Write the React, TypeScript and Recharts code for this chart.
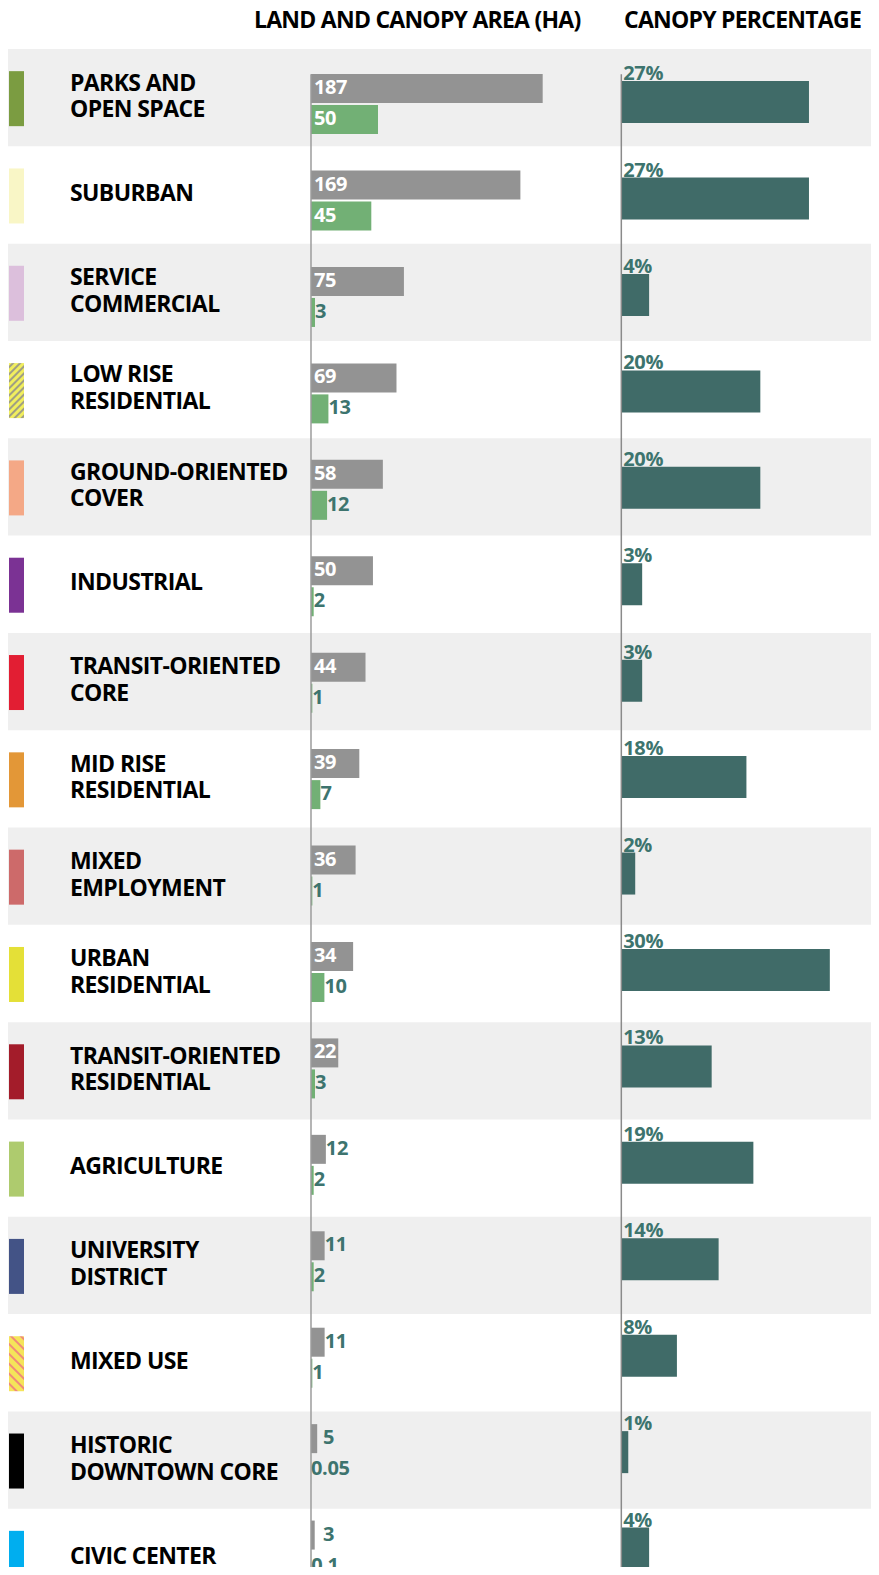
import { Bar, BarChart, LabelList, ReferenceArea, ReferenceLine, XAxis, YAxis } from "recharts";

const landUses = [
  "PARKS AND\nOPEN SPACE",
  "SUBURBAN",
  "SERVICE\nCOMMERCIAL",
  "LOW RISE\nRESIDENTIAL",
  "GROUND-ORIENTED\nCOVER",
  "INDUSTRIAL",
  "TRANSIT-ORIENTED\nCORE",
  "MID RISE\nRESIDENTIAL",
  "MIXED\nEMPLOYMENT",
  "URBAN\nRESIDENTIAL",
  "TRANSIT-ORIENTED\nRESIDENTIAL",
  "AGRICULTURE",
  "UNIVERSITY\nDISTRICT",
  "MIXED USE",
  "HISTORIC\nDOWNTOWN CORE",
  "CIVIC CENTER",
];

// hectares
const landArea = [187, 169, 75, 69, 58, 50, 44, 39, 36, 34, 22, 12, 11, 11, 5, 3];
const canopyArea = [50, 45, 3, 13, 12, 2, 1, 7, 1, 10, 3, 2, 2, 1, 0.05, 0.1];
// percent of land covered by canopy
const canopyPct = [27, 27, 4, 20, 20, 3, 3, 18, 2, 30, 13, 19, 14, 8, 1, 4];

const swatchFills = [
  "#7b9c41",
  "#f9f6c6",
  "#dcbfdc",
  "url(#hatchLowRise)",
  "#f4a886",
  "#7b3294",
  "#e21e33",
  "#e39737",
  "#cd6a6a",
  "#e4e037",
  "#a31c2a",
  "#aecb6e",
  "#435386",
  "url(#hatchMixedUse)",
  "#000000",
  "#00aeef",
];

const rows = landUses.map((name, i) => ({
  name,
  land: landArea[i],
  canopy: canopyArea[i],
  pct: canopyPct[i],
}));

const FONT = '"Open Sans", "DejaVu Sans", sans-serif';
const TEAL = "#3d746e";

const RowTick = (props: any) => {
  const { y, payload } = props;
  const idx = landUses.indexOf(payload.value);
  const lines = String(payload.value).split("\n");
  const first = y - 2 + 8.2 - (lines.length - 1) * 13.35;
  return (
    <g>
      <rect x={9} y={y - 26.5} width={15} height={55} fill={swatchFills[idx]} />
      <text
        fontFamily={FONT}
        fontWeight={700}
        fontSize={23}
        letterSpacing={-0.6}
        fill="#000"
      >
        {lines.map((line, i) => (
          <tspan key={i} x={70} y={first + i * 26.7}>
            {line}
          </tspan>
        ))}
      </text>
    </g>
  );
};

const makeAreaLabel = (insideMin: number, outsideMin: number) => (props: any) => {
  const { x, y, width, height, value } = props;
  const inside = width >= insideMin;
  const tx = inside ? x + 3 : Math.max(x + width, x + outsideMin);
  return (
    <text
      x={tx}
      y={y + height / 2 + 5.5}
      fontFamily={FONT}
      fontWeight={700}
      fontSize={20}
      letterSpacing={-0.4}
      fill={inside ? "#ffffff" : TEAL}
    >
      {value}
    </text>
  );
};

const pctLabel = (props: any) => {
  const { x, y, value } = props;
  return (
    <text
      x={x + 2}
      y={y - 1}
      fontFamily={FONT}
      fontWeight={700}
      fontSize={20}
      letterSpacing={-0.4}
      fill={TEAL}
    >
      {`${value}%`}
    </text>
  );
};

export default function App() {
  return (
    <div
      style={{
        position: "relative",
        margin: -8,
        width: 879,
        height: 1575,
        overflow: "hidden",
        background: "#fff",
      }}
    >
      <svg width={879} height={49} style={{ position: "absolute", left: 0, top: 0 }}>
        <text x={10} y={5.5} fontFamily='"Liberation Sans", Arial, sans-serif' fontStyle="italic" fontSize={32} fill="#1d4e62">
          OCP land use
        </text>
        <text x={254} y={28.3} fontFamily={FONT} fontWeight={700} fontSize={23} letterSpacing={-0.75} fill="#000">
          LAND AND CANOPY AREA (HA)
        </text>
        <text x={624} y={28.3} fontFamily={FONT} fontWeight={700} fontSize={23} letterSpacing={-0.75} fill="#000">
          CANOPY PERCENTAGE
        </text>
      </svg>
      <div style={{ position: "absolute", left: 0, top: 0 }}>
        <BarChart
          width={879}
          height={1606}
          data={rows}
          layout="vertical"
          margin={{ top: 74.3, right: 4, bottom: 0, left: 7 }}
          barGap={2}
        >
          <defs>
            <pattern id="hatchLowRise" patternUnits="userSpaceOnUse" width={5} height={5} patternTransform="rotate(45)">
              <rect width={5} height={5} fill="#f1ee5e" />
              <line x1={1} y1={0} x2={1} y2={5} stroke="#a09f84" strokeWidth={2} />
            </pattern>
            <pattern id="hatchMixedUse" patternUnits="userSpaceOnUse" width={7} height={7} patternTransform="rotate(-45)">
              <rect width={7} height={7} fill="#f5e45a" />
              <line x1={1} y1={0} x2={1} y2={7} stroke="#ef8a7a" strokeWidth={2} />
            </pattern>
          </defs>
          <XAxis xAxisId="area" type="number" domain={[-245.36, 455.21]} hide />
          <XAxis xAxisId="green" type="number" domain={[-226.87, 420.9]} hide />
          <XAxis xAxisId="pct" type="number" domain={[-88.39, 36.5]} hide />
          <YAxis
            yAxisId="rows"
            type="category"
            dataKey="name"
            mirror
            interval={0}
            axisLine={false}
            tickLine={false}
            tick={<RowTick />}
            padding={{ top: -25.3, bottom: 0 }}
          />
          <YAxis yAxisId="cat" type="category" dataKey="name" hide padding={{ top: -18.2, bottom: 7 }} />
          <YAxis yAxisId="pct" type="category" dataKey="name" hide padding={{ top: -20.2, bottom: 9 }} />
          {rows
            .filter((_, i) => i % 2 === 0)
            .map((r) => (
              <ReferenceArea
                key={r.name}
                xAxisId="area"
                yAxisId="rows"
                y1={r.name}
                y2={r.name}
                fill="#efefef"
                fillOpacity={1}
                stroke="none"
                ifOverflow="visible"
              />
            ))}
          <ReferenceLine xAxisId="area" yAxisId="cat" x={0} stroke="#9c9c9c" strokeWidth={1.5} />
          <ReferenceLine xAxisId="pct" yAxisId="pct" x={0} stroke="#8a8a8a" strokeWidth={1.5} />
          <Bar xAxisId="area" yAxisId="cat" dataKey="land" fill="#939393" barSize={29} isAnimationActive={false}>
            <LabelList dataKey="land" content={makeAreaLabel(25, 12)} />
          </Bar>
          <Bar xAxisId="green" yAxisId="cat" dataKey="canopy" fill="#72b075" barSize={29} isAnimationActive={false}>
            <LabelList dataKey="canopy" content={makeAreaLabel(40, 0)} />
          </Bar>
          <Bar xAxisId="pct" yAxisId="pct" dataKey="pct" fill="#406b68" barSize={42} isAnimationActive={false}>
            <LabelList dataKey="pct" content={pctLabel} />
          </Bar>
        </BarChart>
      </div>
    </div>
  );
}
